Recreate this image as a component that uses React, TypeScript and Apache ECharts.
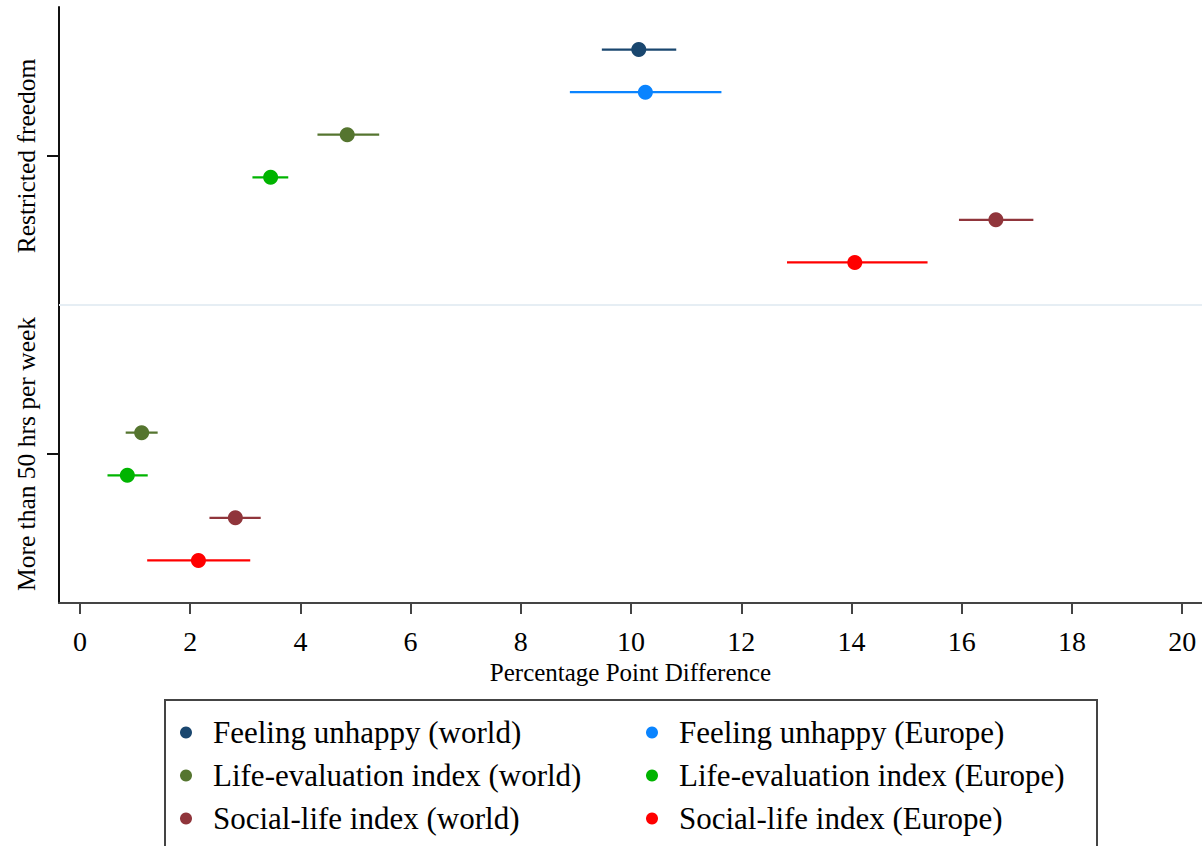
import React, { useEffect, useRef } from "react";
import * as echarts from "echarts";

// Outcome groups on the vertical axis (top to bottom)
const groups = ["Restricted freedom", "More than 50 hrs per week"];
const groupPosition = [7, 0];

// Outcome series
const seriesNames = [
  "Feeling unhappy (world)",
  "Feeling unhappy (Europe)",
  "Life-evaluation index (world)",
  "Life-evaluation index (Europe)",
  "Social-life index (world)",
  "Social-life index (Europe)",
];
const seriesColors = ["#1a476f", "#0a84ff", "#55752f", "#00b400", "#90353b", "#ff0000"];

// Point estimates and 95% interval bounds, per group [Restricted freedom, More than 50 hrs]
const estimates: (number | null)[][] = [
  [10.14, null],
  [10.26, null],
  [4.85, 1.12],
  [3.46, 0.86],
  [16.62, 2.82],
  [14.06, 2.15],
];
const lowerBounds: (number | null)[][] = [
  [9.47, null],
  [8.89, null],
  [4.31, 0.83],
  [3.13, 0.5],
  [15.95, 2.35],
  [12.83, 1.22],
];
const upperBounds: (number | null)[][] = [
  [10.82, null],
  [11.64, null],
  [5.43, 1.41],
  [3.78, 1.23],
  [17.3, 3.28],
  [15.38, 3.09],
];

const xTicks = [0, 2, 4, 6, 8, 10, 12, 14, 16, 18, 20];

const FONT = "'Liberation Serif', 'Times New Roman', serif";

export default function App() {
  const ref = useRef<HTMLDivElement>(null);

  useEffect(() => {
    document.body.style.margin = "0";
    if (!ref.current) return;
    const chart = echarts.init(ref.current, undefined, { renderer: "svg" });

    const series = seriesNames.map((name, i) => {
      const data: number[][] = [];
      groups.forEach((_, g) => {
        const est = estimates[i][g];
        const lo = lowerBounds[i][g];
        const hi = upperBounds[i][g];
        if (est == null || lo == null || hi == null) return;
        data.push([est, lo, hi, groupPosition[g] + 2.5 - i]);
      });
      const s: any = {
        name,
        type: "custom",
        itemStyle: { color: seriesColors[i] },
        encode: { x: [0, 1, 2], y: 3 },
        data,
        renderItem: (_params: any, api: any) => {
          const y = api.value(3);
          const p = api.coord([api.value(0), y]);
          const a = api.coord([api.value(1), y]);
          const b = api.coord([api.value(2), y]);
          return {
            type: "group",
            children: [
              {
                type: "line",
                shape: { x1: a[0], y1: a[1], x2: b[0], y2: b[1] },
                style: { stroke: seriesColors[i], lineWidth: 2.2 },
              },
              {
                type: "circle",
                shape: { cx: p[0], cy: p[1], r: 7.5 },
                style: { fill: seriesColors[i] },
              },
            ],
          };
        },
      };
      if (i === 0) {
        s.markLine = {
          silent: true,
          symbol: "none",
          label: { show: false },
          lineStyle: { color: "#e6eef4", type: "solid", width: 2 },
          data: [{ yAxis: 3.5 }],
        };
      }
      return s;
    });

    const legendCommon = {
      orient: "vertical",
      icon: "circle",
      itemWidth: 44,
      itemHeight: 12,
      itemGap: 0,
      padding: 0,
      height: 200,
      selectedMode: false,
      textStyle: { fontFamily: FONT, fontSize: 31, color: "#000", lineHeight: 43 },
    };

    chart.setOption({
      animation: false,
      backgroundColor: "#ffffff",
      grid: { left: 59, top: 7, width: 1146, height: 596 },
      xAxis: {
        type: "value",
        min: -0.38,
        max: 20.36,
        name: "Percentage Point Difference",
        nameLocation: "middle",
        nameGap: 50,
        nameTextStyle: { fontFamily: FONT, fontSize: 25, color: "#000" },
        axisLine: { show: true, onZero: false, lineStyle: { color: "#444", width: 2 } },
        axisTick: { show: true, length: 11, customValues: xTicks, lineStyle: { color: "#444", width: 2 } },
        axisLabel: {
          customValues: xTicks,
          fontFamily: FONT,
          fontSize: 28,
          color: "#000",
          margin: 24,
        },
        splitLine: { show: false },
      },
      yAxis: {
        type: "value",
        min: -3.5,
        max: 10.5,
        axisLine: { show: true, onZero: false, lineStyle: { color: "#111", width: 2 } },
        axisTick: { show: true, length: 12, customValues: groupPosition, lineStyle: { color: "#111", width: 2 } },
        axisLabel: {
          customValues: groupPosition,
          rotate: 90,
          margin: 20,
          fontFamily: FONT,
          fontSize: 25.5,
          color: "#000",
          formatter: (v: number) => groups[groupPosition.indexOf(Math.round(v))] ?? "",
        },
        splitLine: { show: false },
      },
      legend: [
        { ...legendCommon, left: 180, top: 711, data: [seriesNames[0], seriesNames[2], seriesNames[4]] },
        { ...legendCommon, left: 646, top: 711, data: [seriesNames[1], seriesNames[3], seriesNames[5]] },
      ],
      graphic: [
        {
          type: "rect",
          shape: { x: 165, y: 700, width: 932, height: 200 },
          style: { fill: "none", stroke: "#444", lineWidth: 2 },
          silent: true,
        },
      ],
      series,
    });

    return () => chart.dispose();
  }, []);

  return <div ref={ref} style={{ width: 1202, height: 846 }} />;
}
